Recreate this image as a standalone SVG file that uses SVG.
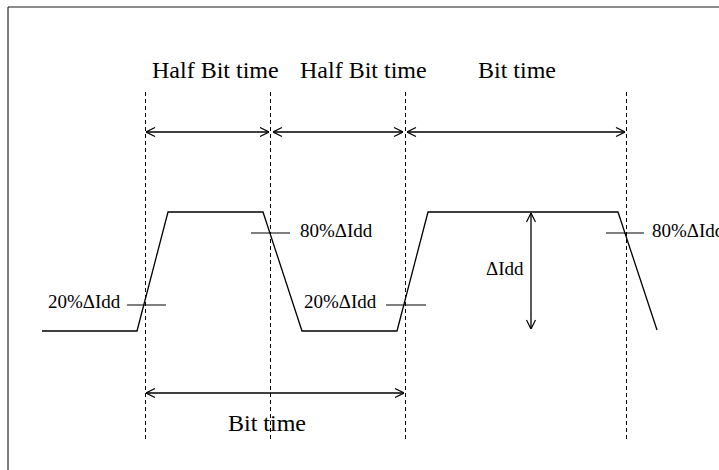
<svg xmlns="http://www.w3.org/2000/svg" width="719" height="470" viewBox="0 0 719 470">
<style>
.lbl{font-family:"Liberation Serif","Times New Roman",serif;fill:#000}
.big{font-size:24px}
.sm{font-size:19px}
.dash{stroke:#000;stroke-width:1;stroke-dasharray:4,3;fill:none}
.wave{stroke:#000;stroke-width:1.3;fill:none}
.tick{stroke:#000;stroke-width:1.2;fill:none}
.arr{stroke:#000;stroke-width:1.3;fill:none;marker-start:url(#ah);marker-end:url(#ah)}
</style>
<defs>
<marker id="ah" viewBox="0 0 10 10" refX="10" refY="5" markerWidth="10" markerHeight="10" markerUnits="userSpaceOnUse" orient="auto-start-reverse">
<path d="M1,0.5 L10,5 L1,9.5" fill="none" stroke="#000" stroke-width="1.2"/>
</marker>
</defs>
<g id="frame">
<line x1="8" y1="7" x2="719" y2="7" stroke="#666" stroke-width="1.6"/>
<line x1="8" y1="7" x2="8" y2="470" stroke="#000" stroke-width="1"/>
</g>
<g id="guides">
<line class="dash" x1="145.5" y1="92" x2="145.5" y2="440"/>
<line class="dash" x1="270.5" y1="92" x2="270.5" y2="440"/>
<line class="dash" x1="405.5" y1="92" x2="405.5" y2="440"/>
<line class="dash" x1="626.5" y1="92" x2="626.5" y2="440"/>
</g>
<g id="waveform">
<polyline class="wave" points="42,331 137,331 168,212 263,212 302,331 397,331 428,212 618,212 657,330"/>
</g>
<g id="levels">
<line class="tick" x1="127" y1="305" x2="166" y2="305"/>
<line class="tick" x1="386" y1="305" x2="426" y2="305"/>
<line class="tick" x1="251" y1="233" x2="290" y2="233"/>
<line class="tick" x1="606" y1="233" x2="644" y2="233"/>
</g>
<g id="connectors">
<line class="arr" x1="146" y1="132" x2="269" y2="132"/>
<line class="arr" x1="273" y1="132" x2="403" y2="132"/>
<line class="arr" x1="407" y1="132" x2="625" y2="132"/>
<line class="arr" x1="146" y1="393" x2="404" y2="393" stroke-width="1.8"/>
<line class="arr" x1="531" y1="213" x2="531" y2="329"/>
</g>
<g id="labels">
<text class="lbl big" x="152" y="78">Half Bit time</text>
<text class="lbl big" x="300" y="78">Half Bit time</text>
<text class="lbl big" x="478" y="78">Bit time</text>
<text class="lbl big" x="228" y="431">Bit time</text>
<text class="lbl sm" x="48" y="308">20%ΔIdd</text>
<text class="lbl sm" x="304" y="308">20%ΔIdd</text>
<text class="lbl sm" x="300" y="237">80%ΔIdd</text>
<text class="lbl sm" x="652" y="237">80%ΔIdd</text>
<text class="lbl sm" x="486" y="275">ΔIdd</text>
</g>
</svg>
